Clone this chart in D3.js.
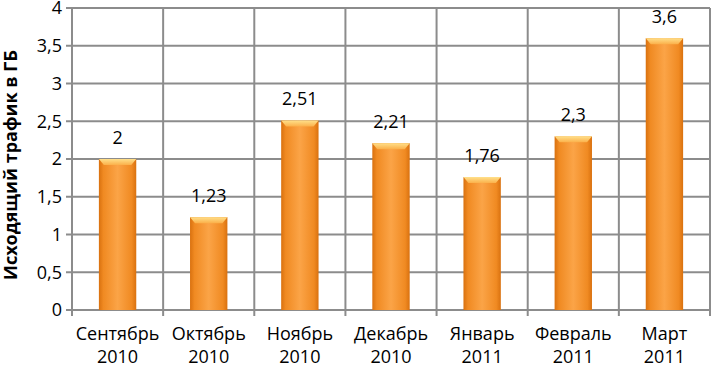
<!DOCTYPE html>
<html>
<head>
<meta charset="utf-8">
<script src="https://cdn.jsdelivr.net/npm/d3@7"></script>
<style>
body { margin: 0; background: #fff; }
text { font-family: "Open Sans", "DejaVu Sans", sans-serif; fill: #000; }
</style>
</head>
<body>
<div class="chart"></div>
<script>
var months = ["Сентябрь", "Октябрь", "Ноябрь", "Декабрь", "Январь", "Февраль", "Март"];
var years = ["2010", "2010", "2010", "2010", "2011", "2011", "2011"];
var values = [2, 1.23, 2.51, 2.21, 1.76, 2.3, 3.6];
var yTicks = [0, 0.5, 1, 1.5, 2, 2.5, 3, 3.5, 4];
var yTitle = "Исходящий трафик в ГБ";

var width = 711, height = 368;
var plotLeft = 72, plotRight = 710, plotTop = 8, plotBottom = 310;

var svg = d3.select(".chart").append("svg")
  .attr("width", width).attr("height", height);

var x = d3.scaleBand().domain(d3.range(months.length)).range([plotLeft, plotRight]);
var y = d3.scaleLinear().domain([0, 4]).range([plotBottom, plotTop]);

var defs = svg.append("defs");
var grad = defs.append("linearGradient").attr("id", "barGrad")
  .attr("x1", "0").attr("x2", "1").attr("y1", "0").attr("y2", "0");
grad.append("stop").attr("offset", "0%").attr("stop-color", "#d9710f");
grad.append("stop").attr("offset", "12%").attr("stop-color", "#f08a22");
grad.append("stop").attr("offset", "50%").attr("stop-color", "#fba447");
grad.append("stop").attr("offset", "88%").attr("stop-color", "#f08a22");
grad.append("stop").attr("offset", "100%").attr("stop-color", "#d9710f");
var topGrad = defs.append("linearGradient").attr("id", "topGrad")
  .attr("x1", "0").attr("x2", "0").attr("y1", "0").attr("y2", "1");
topGrad.append("stop").attr("offset", "0%").attr("stop-color", "#ffe08a");
topGrad.append("stop").attr("offset", "100%").attr("stop-color", "#fbb04a");

// horizontal gridlines
svg.append("g").selectAll("line").data(yTicks).enter().append("line")
  .attr("x1", plotLeft - 6).attr("x2", plotRight)
  .attr("y1", d => y(d)).attr("y2", d => y(d))
  .attr("stroke", "#8c8c8c").attr("stroke-width", 2);

// vertical gridlines / category ticks
var bounds = d3.range(months.length + 1).map(i => plotLeft + i * x.bandwidth());
svg.append("g").selectAll("line").data(bounds).enter().append("line")
  .attr("x1", d => d).attr("x2", d => d)
  .attr("y1", plotTop).attr("y2", plotBottom + 6)
  .attr("stroke", "#8c8c8c").attr("stroke-width", 2);

// y tick labels
svg.append("g").selectAll("text").data(yTicks).enter().append("text")
  .attr("x", plotLeft - 10).attr("y", d => y(d))
  .attr("dy", "0.35em").attr("text-anchor", "end")
  .style("font-size", "18px")
  .text(d => String(d).replace(".", ","));

// bars
var bw = x.bandwidth() * 0.41;
var bars = svg.append("g").selectAll("g").data(values).enter().append("g");
bars.append("rect")
  .attr("x", (d, i) => x(i) + (x.bandwidth() - bw) / 2)
  .attr("y", d => y(d))
  .attr("width", bw)
  .attr("height", d => plotBottom - y(d))
  .attr("fill", "url(#barGrad)");
bars.append("path")
  .attr("d", (d, i) => {
    var x0 = x(i) + (x.bandwidth() - bw) / 2, y0 = y(d);
    return "M" + x0 + "," + y0 + "L" + (x0 + bw) + "," + y0 +
      "L" + (x0 + bw - 5) + "," + (y0 + 6) + "L" + (x0 + 5) + "," + (y0 + 6) + "Z";
  })
  .attr("fill", "url(#topGrad)");

// value labels
svg.append("g").selectAll("text").data(values).enter().append("text")
  .attr("x", (d, i) => x(i) + x.bandwidth() / 2)
  .attr("y", d => y(d) - 15)
  .attr("text-anchor", "middle")
  .style("font-size", "18px")
  .text(d => String(d).replace(".", ","));

// x labels
var xl = svg.append("g").selectAll("text").data(months).enter().append("text")
  .attr("text-anchor", "middle")
  .style("font-size", "18px");
xl.append("tspan")
  .attr("x", (d, i) => x(i) + x.bandwidth() / 2).attr("y", 340)
  .text(d => d);
xl.append("tspan")
  .attr("x", (d, i) => x(i) + x.bandwidth() / 2).attr("y", 363)
  .text((d, i) => years[i]);

// y title
svg.append("text")
  .attr("transform", "translate(17," + 165 + ") rotate(-90)")
  .attr("text-anchor", "middle")
  .style("font-size", "18px").style("font-weight", "bold")
  .text(yTitle);
</script>
</body>
</html>
